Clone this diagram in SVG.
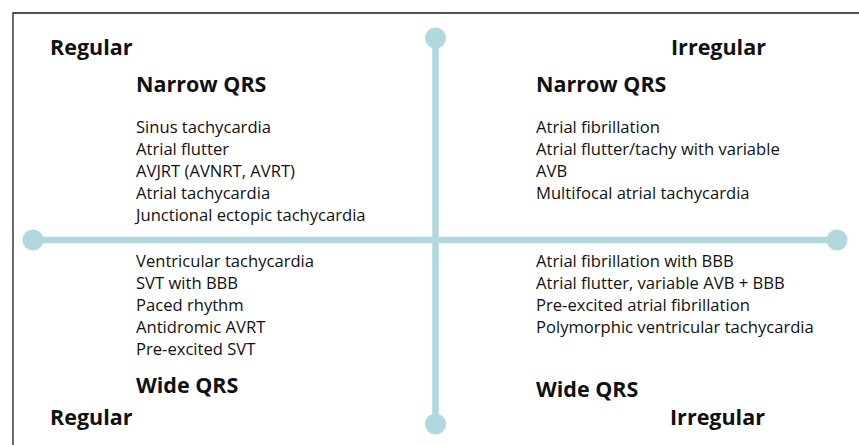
<svg xmlns="http://www.w3.org/2000/svg" width="859" height="445" viewBox="0 0 859 445">
<style>
.frame{fill:none;stroke:#1a1a1a;stroke-width:1.3}
.axis{stroke:#b0d8df;stroke-width:6.5;fill:none}
.dot{fill:#b0d8df}
text{font-family:"Open Sans","Noto Sans",sans-serif;fill:#111}
.h{font-size:21.5px;font-weight:bold}
.b{font-size:16.6px}
</style>
<rect width="859" height="445" fill="#fff"/>
<path class="frame" d="M13,445 V13 H859"/>
<g id="connectors">
<line class="axis" x1="33" y1="240" x2="837" y2="240"/>
<line class="axis" x1="435.5" y1="38" x2="435.5" y2="424"/>
<circle class="dot" cx="33" cy="240" r="10.5"/>
<circle class="dot" cx="837" cy="240" r="10.5"/>
<circle class="dot" cx="435.5" cy="38" r="10.5"/>
<circle class="dot" cx="435.5" cy="424" r="10.5"/>
</g>
<g id="label-regular-top"><text class="h" x="50" y="55">Regular</text></g>
<g id="label-irregular-top"><text class="h" x="671" y="55">Irregular</text></g>
<g id="label-regular-bottom"><text class="h" x="50" y="425">Regular</text></g>
<g id="label-irregular-bottom"><text class="h" x="670" y="425">Irregular</text></g>
<g id="q-narrow-regular">
<text class="h" x="136" y="92">Narrow QRS</text>
<text class="b" x="136" y="133">Sinus tachycardia</text>
<text class="b" x="136" y="155">Atrial flutter</text>
<text class="b" x="136" y="177">AVJRT (AVNRT, AVRT)</text>
<text class="b" x="136" y="199">Atrial tachycardia</text>
<text class="b" x="136" y="221">Junctional ectopic tachycardia</text>
</g>
<g id="q-narrow-irregular">
<text class="h" x="536" y="92">Narrow QRS</text>
<text class="b" x="536" y="133">Atrial fibrillation</text>
<text class="b" x="536" y="155">Atrial flutter/tachy with variable</text>
<text class="b" x="536" y="177">AVB</text>
<text class="b" x="536" y="199">Multifocal atrial tachycardia</text>
</g>
<g id="q-wide-regular">
<text class="b" x="136" y="267">Ventricular tachycardia</text>
<text class="b" x="136" y="289">SVT with BBB</text>
<text class="b" x="136" y="311">Paced rhythm</text>
<text class="b" x="136" y="333">Antidromic AVRT</text>
<text class="b" x="136" y="355">Pre-excited SVT</text>
<text class="h" x="136" y="393">Wide QRS</text>
</g>
<g id="q-wide-irregular">
<text class="b" x="536" y="267">Atrial fibrillation with BBB</text>
<text class="b" x="536" y="289">Atrial flutter, variable AVB + BBB</text>
<text class="b" x="536" y="311">Pre-excited atrial fibrillation</text>
<text class="b" x="536" y="333">Polymorphic ventricular tachycardia</text>
<text class="h" x="536" y="397">Wide QRS</text>
</g>
</svg>
